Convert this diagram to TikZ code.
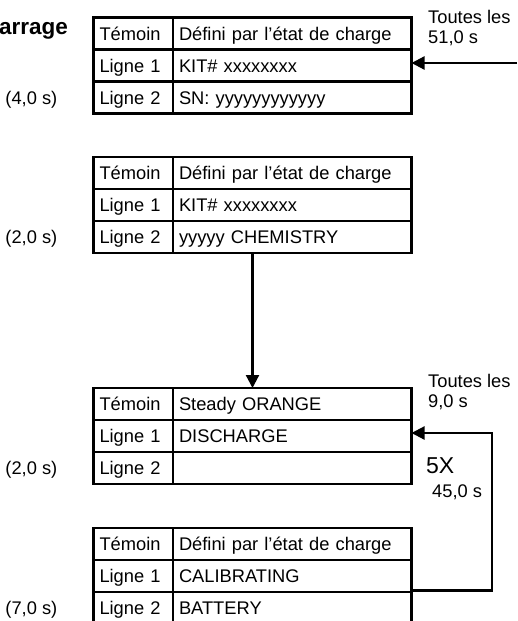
\documentclass[tikz,border=0pt]{standalone}
\usepackage{fontspec}
\setmainfont{Liberation Sans}
\usetikzlibrary{arrows.meta, positioning}

\begin{document}
\begin{tikzpicture}[x = 1pt, y = -1pt,
        every node/.style = {font = \fontsize{18.3pt}{20pt}\selectfont},
        keycell/.style = {draw, rectangle, line width = 2.2pt, outer sep = 0pt, inner xsep = 6pt, inner ysep = 0pt, minimum height = 32pt, text height = 14pt, text depth = 1pt, text width = 67.5pt, align = left, anchor = north west},
        valcell/.style = {keycell, text width = 226.5pt},
        sidelabel/.style = {inner sep = 0pt, align = left, anchor = north west},
        timelabel/.style = {inner sep = 0pt, text height = 14pt, text depth = 1pt},
        flow/.style = {-{Triangle[length = 13pt, width = 13pt]}, line width = 2.2pt}]

        \clip (0, 0) rectangle (517, 621);

        \node [anchor = base east, inner sep = 0pt, font = \bfseries\fontsize{22.5pt}{26pt}\selectfont] (title) at (68, 34) {arrage};

        % Table 1
        \node [keycell] (a1) at (93.5, 17.5) {Témoin};
        \node [keycell] (a2) at (a1.south west) {Ligne 1};
        \node [keycell] (a3) at (a2.south west) {Ligne 2};
        \node [valcell] (av1) at (a1.north east) {Défini par l’état de charge};
        \node [valcell] (av2) at (a2.north east) {KIT\# xxxxxxxx};
        \node [valcell] (av3) at (a3.north east) {SN: yyyyyyyyyyyy};

        % Table 2
        \node [keycell] (b1) at (93.5, 157) {Témoin};
        \node [keycell] (b2) at (b1.south west) {Ligne 1};
        \node [keycell] (b3) at (b2.south west) {Ligne 2};
        \node [valcell] (bv1) at (b1.north east) {Défini par l’état de charge};
        \node [valcell] (bv2) at (b2.north east) {KIT\# xxxxxxxx};
        \node [valcell] (bv3) at (b3.north east) {yyyyy CHEMISTRY};

        % Table 3
        \node [keycell] (c1) at (93.5, 388) {Témoin};
        \node [keycell] (c2) at (c1.south west) {Ligne 1};
        \node [keycell] (c3) at (c2.south west) {Ligne 2};
        \node [valcell] (cv1) at (c1.north east) {Steady ORANGE};
        \node [valcell] (cv2) at (c2.north east) {DISCHARGE};
        \node [valcell] (cv3) at (c3.north east) {};

        % Table 4
        \node [keycell] (d1) at (93.5, 528) {Témoin};
        \node [keycell] (d2) at (d1.south west) {Ligne 1};
        \node [keycell] (d3) at (d2.south west) {Ligne 2};
        \node [valcell] (dv1) at (d1.north east) {Défini par l’état de charge};
        \node [valcell] (dv2) at (d2.north east) {CALIBRATING};
        \node [valcell] (dv3) at (d3.north east) {BATTERY};

        % Durations
        \node [timelabel, left = 36pt of a3] (ta) {(4,0 s)};
        \node [timelabel, left = 36pt of b3] (tb) {(2,0 s)};
        \node [timelabel, left = 36pt of c3] (tc) {(2,0 s)};
        \node [timelabel, left = 36pt of d3] (td) {(7,0 s)};

        % Repeat labels
        \node [sidelabel] (every1) at (428, 10) {Toutes les\\51,0 s};
        \node [sidelabel] (every2) at (428, 374.5) {Toutes les\\9,0 s};
        \node [sidelabel, font = \fontsize{23pt}{26pt}\selectfont] (times) at (426, 457.5) {5X};
        \node [sidelabel] (total) at (432, 485) {45,0 s};

        % Arrows
        \coordinate (feed) at (517, 63);
        \draw [flow] (feed) -- (feed -| av2.east);
        \draw [flow] (bv3.south -| 252.5, 0) -- (cv1.north -| 252.5, 0);
        \draw [flow] (dv2.south east) ++(0, -1.5) -- ++(80.5, 0) |- ([yshift = 3pt] cv2.east);

    \end{tikzpicture}
\end{document}
